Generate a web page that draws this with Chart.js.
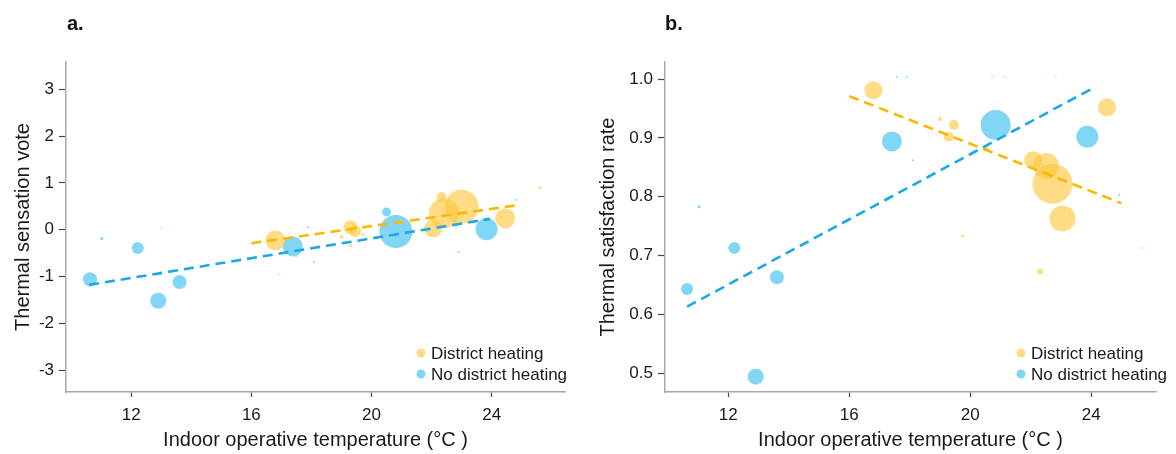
<!DOCTYPE html>
<html>
<head>
<meta charset="utf-8">
<script src="https://cdn.jsdelivr.net/npm/chart.js@4.4.1/dist/chart.umd.min.js"></script>
<style>
	body { margin: 0; background: #fff; }
	.panel { position: absolute; top: 0; width: 588px; height: 454px; }
	.tag { position: absolute; top: 12px; font: bold 20px "Liberation Sans", Arial, sans-serif; color: #111; }
</style>
</head>
<body>
<div class="panel" style="left:0"><canvas id="chartA" width="588" height="454"></canvas></div>
<div class="panel" style="left:588px"><canvas id="chartB" width="588" height="454"></canvas></div>
<div class="tag" style="left:67px">a.</div>
<div class="tag" style="left:665px">b.</div>
<script>
const FONT = '"Liberation Sans", Arial, sans-serif';
const ORANGE = 'rgba(253, 198, 58, 0.62)';
const BLUE = 'rgba(64, 192, 240, 0.66)';
const ORANGE_LINE = '#f8b800';
const BLUE_LINE = '#1aa8e6';

const xTicks = [12, 16, 20, 24];
const yTicksA = [-3, -2, -1, 0, 1, 2, 3];
const yTicksB = [0.5, 0.6, 0.7, 0.8, 0.9, 1.0];
const seriesNames = ['District heating', 'No district heating'];

// panel a - thermal sensation vote
const tempA_dh = [16.8, 19.3, 19.45, 22.05, 22.41, 23.0, 22.33, 24.45, 25.6, 19.0, 19.3, 19.7, 13.0, 17.5, 16.9];
const tsvA_dh = [-0.23, 0.05, -0.03, 0.03, 0.35, 0.49, 0.7, 0.24, 0.9, -0.15, -0.34, -0.1, 0.03, -0.57, -0.96];
const wA_dh = [10, 7, 6, 9, 15, 17, 5, 10, 1.5, 2, 1.5, 1.5, 1, 1.2, 1];

const tempA_no = [10.63, 11.02, 12.22, 12.9, 13.61, 17.38, 20.5, 20.81, 23.83, 17.89, 18.08, 22.89, 24.83];
const tsvA_no = [-1.06, -0.19, -0.39, -1.52, -1.12, -0.36, 0.38, -0.04, 0.01, 0.05, -0.69, -0.47, 0.64];
const wA_no = [7, 1.5, 6, 8, 7, 10, 4.5, 16.5, 11, 1, 1, 1, 1];

const trendA_dh = [[16.0, -0.29], [24.94, 0.53]];
const trendA_no = [[10.6, -1.18], [23.94, 0.23]];

// panel b - thermal satisfaction rate
const tempB_dh = [16.8, 19.46, 19.29, 19.0, 22.08, 22.51, 22.72, 23.05, 24.52, 22.31, 19.74, 25.66, 24.97, 20.73, 21.14, 22.82, 20.52];
const tsrB_dh = [0.981, 0.922, 0.902, 0.932, 0.862, 0.852, 0.822, 0.763, 0.952, 0.673, 0.733, 0.713, 0.789, 1.004, 1.004, 1.004, 0.882];
const wB_dh = [9, 5, 5, 2, 9, 13, 20, 13, 9, 3, 1.5, 1, 1, 1, 1, 1, 3];

const tempB_no = [10.64, 11.04, 12.2, 12.91, 13.61, 17.41, 20.84, 23.87, 18.1, 24.92, 17.58, 17.9];
const tsrB_no = [0.643, 0.783, 0.713, 0.494, 0.663, 0.894, 0.922, 0.902, 0.862, 0.803, 1.004, 1.004];
const wB_no = [6, 1.5, 6, 8, 7, 10, 15, 11, 1, 1, 1, 1];

const trendB_dh = [[16.0, 0.971], [24.99, 0.789]];
const trendB_no = [[10.64, 0.613], [24.0, 0.983]];

function bubbles(xs, ys, ws) {
	return xs.map((x, i) => ({ x: x, y: ys[i], r: ws[i] }));
}

function trend(pts) {
	return pts.map(p => ({ x: p[0], y: p[1] }));
}

// small legend drawn inside the plot
const cornerLegend = {
	id: 'cornerLegend',
	afterDraw(chart, args, opts) {
		const ctx = chart.ctx;
		ctx.save();
		ctx.font = '17px ' + FONT;
		ctx.textBaseline = 'middle';
		const colors = [ORANGE, BLUE];
		seriesNames.forEach((name, i) => {
			const y = opts.y + i * 21;
			ctx.fillStyle = colors[i];
			ctx.beginPath();
			ctx.arc(opts.x, y, 4.5, 0, Math.PI * 2);
			ctx.fill();
			ctx.fillStyle = '#1a1a1a';
			ctx.fillText(name, opts.x + 10, y + 1);
		});
		ctx.restore();
	}
};

function makeChart(id, cfg) {
	const axisBase = {
		type: 'linear',
		border: { color: '#a8a8a8', width: 1.5 },
		grid: { drawOnChartArea: false, drawTicks: true, tickLength: 7, tickColor: '#444', tickWidth: 1.2 },
		ticks: { font: { family: FONT, size: 17 }, color: '#1a1a1a', padding: 5 }
	};
	return new Chart(document.getElementById(id), {
		type: 'bubble',
		data: {
			datasets: [
				{ type: 'line', data: trend(cfg.trendDh), borderColor: ORANGE_LINE, borderWidth: 2.6, borderDash: [10, 6], pointRadius: 0, fill: false, order: 0 },
				{ type: 'line', data: trend(cfg.trendNo), borderColor: BLUE_LINE, borderWidth: 2.6, borderDash: [10, 6], pointRadius: 0, fill: false, order: 0 },
				{ label: seriesNames[0], data: cfg.dh, backgroundColor: ORANGE, borderWidth: 0, order: 1 },
				{ label: seriesNames[1], data: cfg.no, backgroundColor: BLUE, borderWidth: 0, order: 2 }
			]
		},
		options: {
			responsive: false,
			animation: false,
			layout: { padding: { left: 0, top: 62, right: cfg.padRight, bottom: 0 } },
			plugins: {
				legend: { display: false },
				tooltip: { enabled: false },
				cornerLegend: cfg.legend
			},
			scales: {
				x: Object.assign({}, axisBase, {
					position: 'bottom',
					min: cfg.xMin, max: cfg.xMax,
					ticks: Object.assign({}, axisBase.ticks, { padding: 8 }),
					grid: Object.assign({}, axisBase.grid, { tickLength: 5 }),
					afterBuildTicks: s => { s.ticks = xTicks.map(v => ({ value: v })); },
					afterFit: s => { s.height = 62; },
					title: { display: true, text: 'Indoor operative temperature (°C )', font: { family: FONT, size: 20 }, color: '#1a1a1a', padding: { top: 0, bottom: 2 } }
				}),
				y: Object.assign({}, axisBase, {
					position: 'left',
					min: cfg.yMin, max: cfg.yMax,
					afterBuildTicks: s => { s.ticks = cfg.yTicks.map(v => ({ value: v })); },
					ticks: Object.assign({}, axisBase.ticks, { callback: cfg.fmt }),
					afterFit: s => { s.width = cfg.yWidth; },
					title: { display: true, text: cfg.yTitle, font: { family: FONT, size: 20 }, color: '#1a1a1a', padding: { top: cfg.yTitlePad, bottom: 0 } }
				})
			}
		},
		plugins: [cornerLegend]
	});
}

makeChart('chartA', {
	dh: bubbles(tempA_dh, tsvA_dh, wA_dh),
	no: bubbles(tempA_no, tsvA_no, wA_no),
	trendDh: trendA_dh, trendNo: trendA_no,
	xMin: 9.83, xMax: 26.44, yMin: -3.47, yMax: 3.584,
	yTicks: yTicksA, fmt: v => String(v),
	yTitle: 'Thermal sensation vote', yTitlePad: 11, yWidth: 66, padRight: 23,
	legend: { x: 421, y: 353 }
});

makeChart('chartB', {
	dh: bubbles(tempB_dh, tsrB_dh, wB_dh),
	no: bubbles(tempB_no, tsrB_no, wB_no),
	trendDh: trendB_dh, trendNo: trendB_no,
	xMin: 9.91, xMax: 26.14, yMin: 0.468, yMax: 1.029,
	yTicks: yTicksB, fmt: v => v.toFixed(1),
	yTitle: 'Thermal satisfaction rate', yTitlePad: 8, yWidth: 77, padRight: 6,
	legend: { x: 433, y: 353 }
});
</script>
</body>
</html>
